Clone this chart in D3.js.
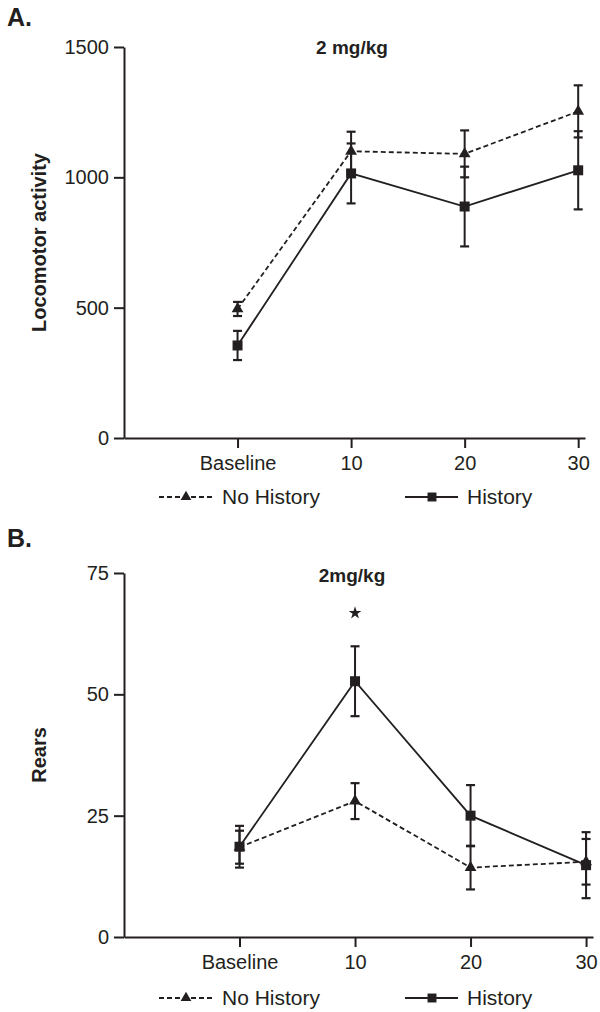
<!DOCTYPE html>
<html>
<head>
<meta charset="utf-8">
<script src="https://cdn.jsdelivr.net/npm/d3@7"></script>
<style>
  body { margin: 0; background: #fff; }
  text { font-family: "Liberation Sans", Arial, sans-serif; fill: #231f20; }
</style>
</head>
<body>
<div id="chart"></div>
<script>
// time points on the x axis
const timePoints = ["Baseline", "10", "20", "30"];

// A. locomotor activity, 2 mg/kg
const locoNoHistory = [495, 1100, 1090, 1253];
const locoNoHistoryErr = [27, 75, 90, 100];
const locoHistory = [355, 1015, 888, 1027];
const locoHistoryErr = [56, 115, 153, 150];
const locoTicks = [0, 500, 1000, 1500];

// B. rears, 2mg/kg
const rearsNoHistory = [18.5, 28, 14.3, 15.5];
const rearsNoHistoryErr = [3.4, 3.7, 4.5, 4.7];
const rearsHistory = [18.6, 52.7, 25, 14.8];
const rearsHistoryErr = [4.3, 7.2, 6.3, 6.8];
const rearsTicks = [0, 25, 50, 75];
const rearsStars = ["10"]; // significant difference

const ink = "#231f20";

const svg = d3.select("#chart").append("svg")
  .attr("width", 600)
  .attr("height", 1012);

function drawPanel(p) {
  const g = svg.append("g");

  const x = d3.scaleLinear().domain([-1, 3.06]).range([124, p.xEnd]);
  const y = d3.scaleLinear().domain([0, p.yMax]).range([p.yBottom, p.yTop]);

  // panel letter + title
  g.append("text").attr("x", 7).attr("y", p.letterY)
    .attr("font-size", 25).attr("font-weight", "bold").text(p.letter);
  g.append("text").attr("x", 352).attr("y", p.titleY)
    .attr("text-anchor", "middle").attr("font-size", 19).attr("font-weight", "bold")
    .text(p.title);

  // y axis
  const yAxis = g.append("g").attr("transform", `translate(124,0)`)
    .call(d3.axisLeft(y).tickValues(p.yTicks).tickFormat(d3.format("d"))
      .tickSize(10).tickSizeOuter(0).tickPadding(5));
  // x axis
  const xAxis = g.append("g").attr("transform", `translate(0,${p.yBottom})`)
    .call(d3.axisBottom(x).tickValues([0, 1, 2, 3]).tickFormat(i => timePoints[i])
      .tickSize(10).tickSizeOuter(0).tickPadding(8));
  [yAxis, xAxis].forEach(a => {
    a.select(".domain").attr("stroke", ink).attr("stroke-width", 2);
    a.selectAll(".tick line").attr("stroke", ink).attr("stroke-width", 2);
    a.selectAll(".tick text").attr("font-size", 20).attr("fill", ink);
  });

  g.append("text")
    .attr("transform", `translate(46,${(p.yTop + p.yBottom) / 2}) rotate(-90)`)
    .attr("text-anchor", "middle").attr("font-size", 20).attr("font-weight", "bold")
    .text(p.yLabel);

  const series = [
    { vals: p.noHist, errs: p.noHistErr, dash: "5,3", sym: d3.symbolTriangle, size: 60 },
    { vals: p.hist, errs: p.histErr, dash: null, sym: d3.symbolSquare, size: 100 }
  ];

  series.forEach(s => {
    // error bars
    s.vals.forEach((v, i) => {
      const lo = y(v - s.errs[i]), hi = y(v + s.errs[i]), cx = x(i);
      g.append("line").attr("x1", cx).attr("x2", cx).attr("y1", lo).attr("y2", hi)
        .attr("stroke", ink).attr("stroke-width", 2);
      [lo, hi].forEach(yy => g.append("line")
        .attr("x1", cx - 4.5).attr("x2", cx + 4.5).attr("y1", yy).attr("y2", yy)
        .attr("stroke", ink).attr("stroke-width", 2.2));
    });
    const line = d3.line().x((d, i) => x(i)).y(d => y(d));
    g.append("path").datum(s.vals).attr("d", line)
      .attr("fill", "none").attr("stroke", ink).attr("stroke-width", 1.8)
      .attr("stroke-dasharray", s.dash);
    g.selectAll(null).data(s.vals).enter().append("path")
      .attr("d", d3.symbol().type(s.sym).size(s.size))
      .attr("transform", (d, i) => `translate(${x(i)},${y(d)})`)
      .attr("fill", ink);
  });

  // significance stars
  p.stars.forEach(t => {
    const i = timePoints.indexOf(t);
    g.append("path").attr("d", d3.symbol().type(d3.symbolStar).size(50))
      .attr("transform", `translate(${x(i)},${p.starY})`).attr("fill", ink);
  });

  // legend
  const ly = p.legendY;
  g.append("line").attr("x1", 159).attr("x2", 214).attr("y1", ly).attr("y2", ly)
    .attr("stroke", ink).attr("stroke-width", 1.8).attr("stroke-dasharray", "5,3");
  g.append("path").attr("d", d3.symbol().type(d3.symbolTriangle).size(50))
    .attr("transform", `translate(186,${ly})`).attr("fill", ink);
  g.append("text").attr("x", 222).attr("y", ly + 7).attr("font-size", 21).text("No History");
  g.append("line").attr("x1", 405).attr("x2", 458).attr("y1", ly).attr("y2", ly)
    .attr("stroke", ink).attr("stroke-width", 1.8);
  g.append("path").attr("d", d3.symbol().type(d3.symbolSquare).size(80))
    .attr("transform", `translate(432,${ly})`).attr("fill", ink);
  g.append("text").attr("x", 467).attr("y", ly + 7).attr("font-size", 21).text("History");
}

drawPanel({
  letter: "A.", letterY: 26, title: "2 mg/kg", titleY: 54,
  yLabel: "Locomotor activity", yMax: 1500, yTicks: locoTicks,
  yTop: 47, yBottom: 438, xEnd: 585,
  noHist: locoNoHistory, noHistErr: locoNoHistoryErr,
  hist: locoHistory, histErr: locoHistoryErr,
  stars: [], starY: 0, legendY: 497
});

drawPanel({
  letter: "B.", letterY: 547, title: "2mg/kg", titleY: 582,
  yLabel: "Rears", yMax: 75, yTicks: rearsTicks,
  yTop: 573, yBottom: 937, xEnd: 593,
  noHist: rearsNoHistory, noHistErr: rearsNoHistoryErr,
  hist: rearsHistory, histErr: rearsHistoryErr,
  stars: rearsStars, starY: 613, legendY: 998
});
</script>
</body>
</html>
